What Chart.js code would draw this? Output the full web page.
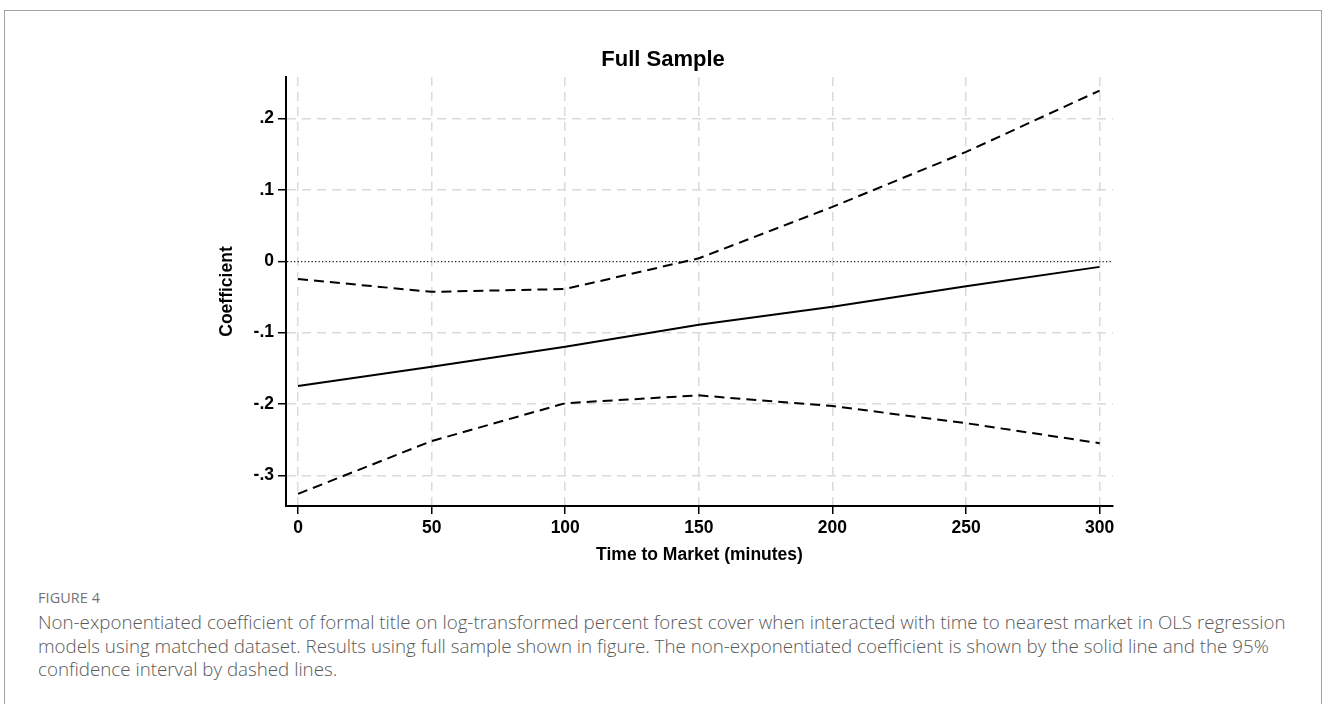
<!DOCTYPE html>
<html>
<head>
<meta charset="utf-8">
<script src="https://cdn.jsdelivr.net/npm/chart.js@4.4.1/dist/chart.umd.min.js"></script>
<style>
    body { margin: 0; background: #fff; width: 1328px; height: 704px; overflow: hidden; position: relative; }
    .frame { position: absolute; left: 4px; top: 10px; width: 1318px; height: 720px; border: 1px solid #a3a3a3; box-sizing: border-box; }
    #chartWrap { position: absolute; left: 0; top: 0; width: 1328px; height: 580px; }
    .fig-label { position: absolute; left: 38px; top: 588px; font-family: "Open Sans", sans-serif; font-size: 14.4px; color: #737373; letter-spacing: 0.1px; }
    .caption { position: absolute; left: 38px; top: 610px; font-family: "Open Sans", sans-serif; font-weight: 300; font-size: 18.75px; line-height: 23.5px; color: #595959; white-space: nowrap; }
</style>
</head>
<body>
<div class="frame"></div>
<div id="chartWrap"><canvas id="coefChart" width="1328" height="580"></canvas></div>
<div class="fig-label">FIGURE 4</div>
<div class="caption">Non-exponentiated coefficient of formal title on log-transformed percent forest cover when interacted with time to nearest market in OLS regression<br>models using matched dataset. Results using full sample shown in figure. The non-exponentiated coefficient is shown by the solid line and the 95%<br>confidence interval by dashed lines.</div>

<script>
// Time to market (minutes)
const minutes = [0, 50, 100, 150, 200, 250, 300];
// Non-exponentiated coefficient
const coefficient = [-0.175, -0.148, -0.120, -0.089, -0.064, -0.035, -0.008];
// 95% confidence interval
const ciUpper = [-0.025, -0.043, -0.039, 0.004, 0.076, 0.153, 0.239];
const ciLower = [-0.326, -0.252, -0.199, -0.188, -0.203, -0.227, -0.255];

// Axis ticks
const xTicks = [0, 50, 100, 150, 200, 250, 300];
const yTicks = [-0.3, -0.2, -0.1, 0, 0.1, 0.2];
const yTickLabels = ['-.3', '-.2', '-.1', '0', '.1', '.2'];

const toPoints = (ys) => minutes.map((m, i) => ({ x: m, y: ys[i] }));

const axisFont = { family: '"Liberation Sans", Arial, sans-serif', size: 17.5, weight: 'bold' };
const gridGrey = '#dadada';

new Chart(document.getElementById('coefChart'), {
    type: 'line',
    data: {
        datasets: [
            {
                label: 'Upper CI',
                data: toPoints(ciUpper),
                borderColor: '#000',
                borderWidth: 2,
                borderDash: [10, 6],
                pointRadius: 0,
                tension: 0,
                fill: false
            },
            {
                label: 'Coefficient',
                data: toPoints(coefficient),
                borderColor: '#000',
                borderWidth: 2,
                pointRadius: 0,
                tension: 0,
                fill: false
            },
            {
                label: 'Lower CI',
                data: toPoints(ciLower),
                borderColor: '#000',
                borderWidth: 2,
                borderDash: [10, 6],
                pointRadius: 0,
                tension: 0,
                fill: false
            }
        ]
    },
    options: {
        responsive: false,
        animation: false,
        devicePixelRatio: 1,
        layout: {
            padding: { left: 213, right: 215, top: 0, bottom: 12 }
        },
        plugins: {
            legend: { display: false },
            tooltip: { enabled: false },
            title: {
                display: true,
                text: 'Full Sample',
                color: '#000',
                font: { family: '"Liberation Sans", Arial, sans-serif', size: 22, weight: 'bold' },
                padding: { top: 46.8, bottom: 3.8 }
            }
        },
        scales: {
            x: {
                type: 'linear',
                min: -4.5,
                max: 305,
                afterFit: (scale) => { scale.height = 62; },
                afterBuildTicks: (scale) => { scale.ticks = xTicks.map(v => ({ value: v })); },
                ticks: {
                    color: '#000',
                    font: axisFont,
                    padding: 4,
                    maxRotation: 0,
                    callback: (v) => String(v)
                },
                grid: {
                    color: gridGrey,
                    lineWidth: 1.5,
                    tickColor: '#000',
                    tickLength: 8,
                    tickWidth: 1.5
                },
                border: { color: '#000', width: 2, dash: [9, 6] },
                title: {
                    display: true,
                    text: 'Time to Market (minutes)',
                    color: '#000',
                    font: axisFont,
                    padding: { top: 0, bottom: 2.5 }
                }
            },
            y: {
                type: 'linear',
                min: -0.343,
                max: 0.258,
                afterFit: (scale) => { scale.width = 73; },
                afterBuildTicks: (scale) => { scale.ticks = yTicks.map(v => ({ value: v })); },
                ticks: {
                    color: '#000',
                    font: axisFont,
                    padding: 4,
                    callback: (v) => yTickLabels[yTicks.indexOf(v)]
                },
                grid: {
                    color: (ctx) => (ctx.tick && ctx.tick.value === 0) ? '#222' : gridGrey,
                    lineWidth: (ctx) => (ctx.tick && ctx.tick.value === 0) ? 1.3 : 1.5,
                    tickColor: '#000',
                    tickLength: 8,
                    tickWidth: 1.5
                },
                border: {
                    color: '#000',
                    width: 2,
                    dash: (ctx) => (ctx.tick && ctx.tick.value === 0) ? [1.3, 2.2] : [9, 6]
                },
                title: {
                    display: true,
                    text: 'Coefficient',
                    color: '#000',
                    font: axisFont,
                    padding: { top: 3.5, bottom: 0 }
                }
            }
        }
    }
});
</script>
</body>
</html>
